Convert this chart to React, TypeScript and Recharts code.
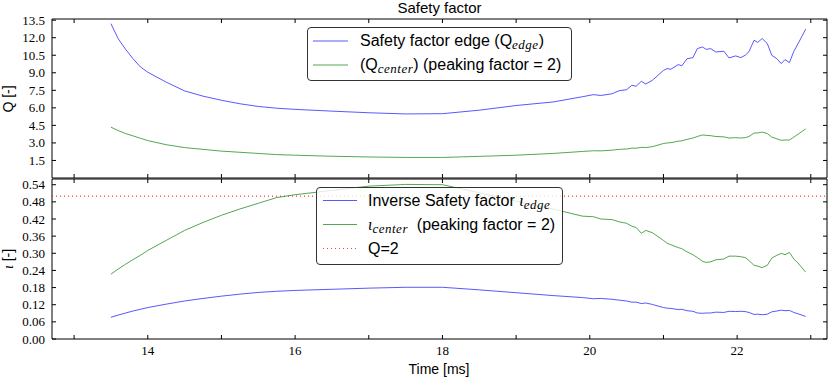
import React from "react";
import { LineChart, Line, XAxis, YAxis, ReferenceArea, ReferenceLine } from "recharts";

// time axis [ms]
const time = [
  13.5, 13.6, 13.7, 13.8, 13.9, 14.0, 14.25, 14.5, 14.75, 15.0, 15.25, 15.5, 15.75, 16.0,
  16.5, 17.0, 17.5, 18.0, 18.5, 19.0, 19.5, 19.9, 20.05, 20.15, 20.3, 20.4, 20.5, 20.57,
  20.63, 20.7, 20.76, 20.85, 21.0, 21.05, 21.1, 21.2, 21.25, 21.32, 21.4, 21.46, 21.53,
  21.58, 21.64, 21.71, 21.82, 21.89, 21.98, 22.05, 22.11, 22.16, 22.23, 22.28, 22.34,
  22.41, 22.47, 22.54, 22.6, 22.65, 22.71, 22.77, 22.84, 22.93,
];

const qEdge = [
  13.2, 11.9, 11.0, 10.2, 9.5, 9.05, 8.2, 7.45, 7.0, 6.65, 6.35, 6.12, 5.97, 5.87,
  5.72, 5.58, 5.48, 5.5, 5.8, 6.2, 6.5, 6.95, 7.13, 7.06, 7.2, 7.47, 7.55, 7.93,
  7.85, 8.27, 8.04, 8.36, 9.2, 9.36, 9.3, 9.7, 9.6, 10.2, 10.3, 11.07, 11.21,
  11.0, 11.07, 10.78, 10.84, 10.27, 10.44, 10.3, 10.5, 10.8, 11.78, 11.6, 11.93,
  11.5, 10.5, 10.2, 9.79, 10.13, 9.87, 10.84, 11.64, 12.73,
];

const qCenter = [
  4.35, 4.05, 3.8, 3.6, 3.4, 3.2, 2.85, 2.6, 2.45, 2.3, 2.2, 2.1, 2.0, 1.95,
  1.86, 1.8, 1.76, 1.76, 1.85, 1.95, 2.1, 2.27, 2.33, 2.32, 2.38, 2.45, 2.48, 2.55,
  2.55, 2.62, 2.6, 2.68, 2.95, 3.0, 3.02, 3.15, 3.18, 3.3, 3.42, 3.55, 3.68,
  3.65, 3.62, 3.55, 3.52, 3.42, 3.45, 3.42, 3.45, 3.55, 3.85, 3.85, 3.93,
  3.8, 3.5, 3.35, 3.22, 3.25, 3.25, 3.5, 3.8, 4.2,
];

const iotaEdge = [
  0.076, 0.084, 0.091, 0.098, 0.104, 0.11, 0.122, 0.133, 0.142, 0.15, 0.157, 0.163, 0.167, 0.17,
  0.174, 0.178, 0.181, 0.181, 0.172, 0.162, 0.152, 0.145, 0.141, 0.142, 0.139, 0.136, 0.133, 0.129,
  0.129, 0.124, 0.126, 0.121, 0.11, 0.108, 0.107, 0.103, 0.104, 0.099, 0.097, 0.091, 0.09,
  0.091, 0.091, 0.094, 0.093, 0.097, 0.096, 0.097, 0.096, 0.093, 0.086, 0.087, 0.085,
  0.087, 0.095, 0.098, 0.101, 0.099, 0.1, 0.093, 0.087, 0.079,
];

const iotaCenter = [
  0.227, 0.245, 0.262, 0.278, 0.293, 0.31, 0.345, 0.38, 0.408, 0.433, 0.455, 0.475, 0.495, 0.505,
  0.52, 0.535, 0.541, 0.54, 0.512, 0.482, 0.455, 0.43, 0.428, 0.42, 0.418, 0.41, 0.405, 0.395,
  0.39, 0.37, 0.38, 0.372, 0.345, 0.335, 0.33, 0.32, 0.316, 0.305, 0.295, 0.285, 0.272,
  0.268, 0.27, 0.277, 0.28, 0.29, 0.29, 0.288, 0.285, 0.275, 0.258, 0.255, 0.25,
  0.258, 0.283, 0.293, 0.3, 0.295, 0.303, 0.28, 0.262, 0.234,
];

const xTicks = [13, 14, 15, 16, 17, 18, 19, 20, 21, 22, 23];
const qTicks = [1.5, 3, 4.5, 6, 7.5, 9, 10.5, 12, 13.5];
const iotaTicks = [0, 0.06, 0.12, 0.18, 0.24, 0.3, 0.36, 0.42, 0.48, 0.54];
const iotaLimit = 0.5; // Q=2

const rows = time.map((t, i) => ({
  t,
  qEdge: qEdge[i],
  qCenter: qCenter[i],
  iotaEdge: iotaEdge[i],
  iotaCenter: iotaCenter[i],
}));

const PLOT_L = 52;
const PLOT_R = 827;
const X_DOMAIN: [number, number] = [12.7, 23.22];
const SANS = "'Liberation Sans', Arial, sans-serif";
const SERIF = "'Liberation Serif', 'Times New Roman', serif";
const BLUE = "#2020ff";
const GREEN = "#1a8a1a";
const LINE_W = 0.75;

const makeYTick = (digits: number) => (p: any) => {
  const { y, payload } = p;
  return (
    <g>
      <line x1={PLOT_L} x2={PLOT_L + 4} y1={y} y2={y} stroke="#000" />
      <line x1={PLOT_R - 4} x2={PLOT_R} y1={y} y2={y} stroke="#000" />
      <text x={PLOT_L - 7} y={y} textAnchor="end" dominantBaseline="central" fontFamily={SERIF} fontSize={13} fill="#000">
        {payload.value.toFixed(digits)}
      </text>
    </g>
  );
};

const makeXTick = (top: number, bottom: number, labels: boolean) => (p: any) => {
  const { x, payload } = p;
  return (
    <g>
      <line x1={x} x2={x} y1={bottom - 4} y2={bottom} stroke="#000" />
      <line x1={x} x2={x} y1={top} y2={top + 4} stroke="#000" />
      {labels && payload.value % 2 === 0 && (
        <text x={x} y={bottom + 11} textAnchor="middle" dominantBaseline="central" fontFamily={SERIF} fontSize={13} fill="#000">
          {payload.value}
        </text>
      )}
    </g>
  );
};

const Sub = ({ children }: { children: React.ReactNode }) => (
  <span style={{ fontFamily: SERIF, fontStyle: "italic", fontSize: 13, letterSpacing: 0.5, position: "relative", top: 3 }}>
    {children}
  </span>
);

const Iota = () => <span style={{ fontFamily: SERIF, fontStyle: "italic", fontSize: 16 }}>ι</span>;

type LegendRow = { color: string; dash?: string; y: number; content: React.ReactNode };

function LegendBox({ left, top, width, height, lineX, textX, items }: {
  left: number; top: number; width: number; height: number; lineX: [number, number]; textX: number; items: LegendRow[];
}) {
  return (
    <div
      style={{
        position: "absolute", left, top, width, height, boxSizing: "border-box",
        border: "1px solid #333", borderRadius: 4, background: "rgba(255,255,255,0.8)",
      }}
    >
      <svg width={width} height={height} style={{ position: "absolute", left: -1, top: -1 }}>
        {items.map((it, i) => (
          <line key={i} x1={lineX[0]} x2={lineX[1]} y1={it.y} y2={it.y} stroke={it.color} strokeWidth={LINE_W} strokeDasharray={it.dash} />
        ))}
      </svg>
      {items.map((it, i) => (
        <div
          key={i}
          style={{
            position: "absolute", left: textX - 1, top: it.y - 11, height: 20, lineHeight: "20px",
            fontFamily: SANS, fontSize: 16, whiteSpace: "nowrap", color: "#000",
          }}
        >
          {it.content}
        </div>
      ))}
    </div>
  );
}

export default function App() {
  return (
    <div style={{ position: "absolute", left: 0, top: 0, width: 829, height: 377, background: "#fff", overflow: "hidden" }}>
      <div style={{ position: "absolute", left: PLOT_L, width: PLOT_R - PLOT_L, top: 0, textAlign: "center", fontFamily: SANS, fontSize: 15, lineHeight: "15px" }}>
        Safety factor
      </div>

      {/* Safety factor panel */}
      <div style={{ position: "absolute", left: 0, top: 0 }}>
        <LineChart width={829} height={179} data={rows} margin={{ top: 19, right: 2, bottom: 0, left: 0 }}>
          <XAxis
            dataKey="t" type="number" domain={X_DOMAIN} ticks={xTicks} height={1} interval={0}
            axisLine={false} tickSize={0} tickMargin={0} allowDataOverflow
            tick={makeXTick(19, 178, false)}
          />
          <YAxis
            type="number" domain={[0, 13.6]} ticks={qTicks} width={52} interval={0}
            axisLine={false} tickSize={0} tickMargin={0} allowDataOverflow
            tick={makeYTick(1)}
          />
          <ReferenceArea x1={X_DOMAIN[0]} x2={X_DOMAIN[1]} y1={0} y2={13.6} fill="none" stroke="#000" strokeWidth={1} ifOverflow="visible" />
          <Line type="linear" dataKey="qEdge" stroke={BLUE} strokeWidth={LINE_W} dot={false} isAnimationActive={false} />
          <Line type="linear" dataKey="qCenter" stroke={GREEN} strokeWidth={LINE_W} dot={false} isAnimationActive={false} />
        </LineChart>
      </div>

      {/* Inverse safety factor panel */}
      <div style={{ position: "absolute", left: 0, top: 178 }}>
        <LineChart width={829} height={199} data={rows} margin={{ top: 1, right: 2, bottom: 0, left: 0 }}>
          <XAxis
            dataKey="t" type="number" domain={X_DOMAIN} ticks={xTicks} height={38} interval={0}
            axisLine={false} tickSize={0} tickMargin={0} allowDataOverflow
            tick={makeXTick(1, 161, true)}
          />
          <YAxis
            type="number" domain={[0, 0.56]} ticks={iotaTicks} width={52} interval={0}
            axisLine={false} tickSize={0} tickMargin={0} allowDataOverflow
            tick={makeYTick(2)}
          />
          <ReferenceArea x1={X_DOMAIN[0]} x2={X_DOMAIN[1]} y1={0} y2={0.56} fill="none" stroke="#000" strokeWidth={1} ifOverflow="visible" />
          <ReferenceLine y={iotaLimit} stroke="#ff0000" strokeDasharray="1 3" strokeWidth={1} />
          <Line type="linear" dataKey="iotaEdge" stroke={BLUE} strokeWidth={LINE_W} dot={false} isAnimationActive={false} />
          <Line type="linear" dataKey="iotaCenter" stroke={GREEN} strokeWidth={LINE_W} dot={false} isAnimationActive={false} />
        </LineChart>
      </div>

      {/* axis labels */}
      <div style={{ position: "absolute", left: 8, top: 98.5, transform: "translate(-50%, -50%) rotate(-90deg)", fontFamily: SANS, fontSize: 14, whiteSpace: "nowrap" }}>
        Q [-]
      </div>
      <div style={{ position: "absolute", left: 8, top: 259, transform: "translate(-50%, -50%) rotate(-90deg)", fontFamily: SANS, fontSize: 14, whiteSpace: "nowrap" }}>
        <span style={{ fontFamily: SERIF, fontStyle: "italic" }}>ι</span> [-]
      </div>
      <div style={{ position: "absolute", left: 439, top: 369, transform: "translate(-50%, -50%)", fontFamily: SANS, fontSize: 14, whiteSpace: "nowrap" }}>
        Time [ms]
      </div>

      <LegendBox
        left={307} top={27} width={265} height={54} lineX={[6, 41]} textX={53}
        items={[
          { color: BLUE, y: 14, content: <>Safety factor edge (Q<Sub>edge</Sub>)</> },
          { color: GREEN, y: 38, content: <>(Q<Sub>center</Sub>) (peaking factor = 2)</> },
        ]}
      />
      <LegendBox
        left={316} top={187} width={247} height={78} lineX={[7, 41]} textX={52}
        items={[
          { color: BLUE, y: 13.5, content: <>Inverse Safety factor <Iota /><Sub>edge</Sub></> },
          { color: GREEN, y: 37.5, content: <><Iota /><Sub>center</Sub>&nbsp; (peaking factor = 2)</> },
          { color: "#ff0000", dash: "1 3", y: 61.5, content: <>Q=2</> },
        ]}
      />
    </div>
  );
}
